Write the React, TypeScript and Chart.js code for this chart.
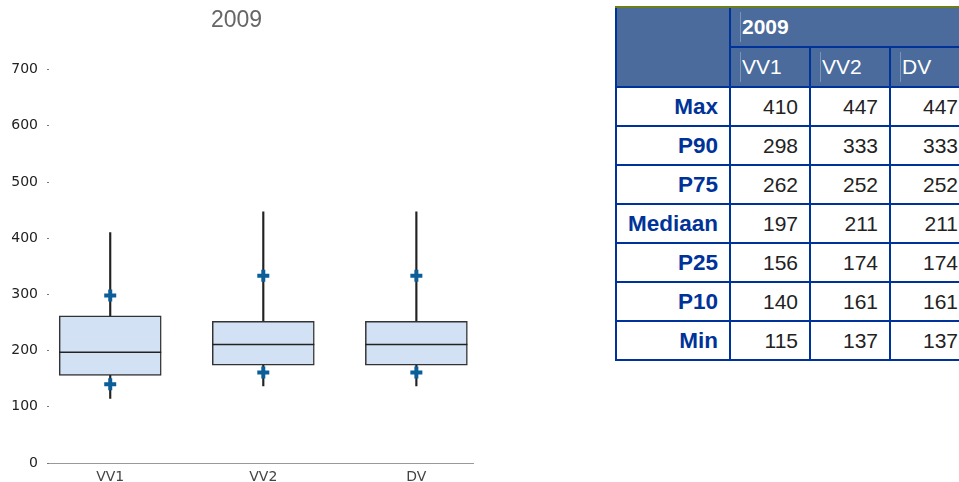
import React, { useEffect, useRef } from 'react';
import { Chart, registerables } from 'chart.js';

Chart.register(...registerables);

const chartTitle = '2009';
const categories = ['VV1', 'VV2', 'DV'];
const maxValues = [410, 447, 447];
const p90Values = [298, 333, 333];
const p75Values = [262, 252, 252];
const medianValues = [197, 211, 211];
const p25Values = [156, 174, 174];
const p10Values = [140, 161, 161];
const minValues = [115, 137, 137];
const yMin = 0;
const yMax = 700;
const yStep = 100;
const rowLabels = ['Max', 'P90', 'P75', 'Mediaan', 'P25', 'P10', 'Min'];
const rowSeries = [maxValues, p90Values, p75Values, medianValues, p25Values, p10Values, minValues];

const BLUE_LINE = '#003399';
const HEADER_BG = '#4A6B9B';
const TABLE_FONT = '"Liberation Sans", Arial, sans-serif';

function BoxChart() {
  const ref = useRef<HTMLCanvasElement | null>(null);
  useEffect(() => {
    if (!ref.current) return;
    const xs = categories.map((_, i) => i + 1);
    const chart = new Chart(ref.current, {
      type: 'bar',
      data: {
        datasets: [
          {
            type: 'scatter',
            label: 'P10/P90',
            data: [
              ...xs.map((x, i) => ({ x, y: p90Values[i] })),
              ...xs.map((x, i) => ({ x, y: p10Values[i] })),
            ],
            pointStyle: 'cross',
            pointRadius: 6,
            pointBorderWidth: 4,
            borderColor: '#0B5E97',
            backgroundColor: '#0B5E97',
            order: 0,
          } as any,
          {
            type: 'scatter',
            label: 'Mediaan',
            data: xs.map((x, i) => ({ x, y: medianValues[i] })),
            pointStyle: 'line',
            pointRadius: 51,
            pointBorderWidth: 1.5,
            borderColor: '#222222',
            order: 1,
          } as any,
          {
            type: 'bar',
            label: 'P25-P75',
            data: xs.map((x, i) => ({ x, y: [p25Values[i], p75Values[i]] })),
            backgroundColor: '#D2E2F4',
            borderColor: '#333333',
            borderWidth: 1.5,
            borderSkipped: false,
            barThickness: 102,
            grouped: false,
            order: 2,
          } as any,
          {
            type: 'bar',
            label: 'Min-Max',
            data: xs.map((x, i) => ({ x, y: [minValues[i], maxValues[i]] })),
            backgroundColor: '#222222',
            borderWidth: 0,
            barThickness: 1.5,
            grouped: false,
            order: 3,
          } as any,
        ],
      },
      options: {
        animation: false,
        responsive: false,
        events: [],
        layout: { autoPadding: false, padding: { left: 0, right: 7, top: 0, bottom: 0 } },
        plugins: {
          legend: { display: false },
          tooltip: { enabled: false },
          title: {
            display: true,
            text: chartTitle,
            color: '#666666',
            font: { family: '"Liberation Sans", Arial, sans-serif', size: 23, weight: 'normal' },
            padding: { top: 7, bottom: 35 },
          },
        },
        scales: {
          x: {
            type: 'linear',
            min: 0.6,
            max: 3.37,
            offset: false,
            grid: { display: false, drawTicks: false, offset: false },
            border: { display: true, color: '#999999', width: 1 },
            afterBuildTicks: (s: any) => {
              s.ticks = xs.map((v) => ({ value: v }));
            },
            afterFit: (s: any) => {
              s.height = 19;
            },
            ticks: {
              autoSkip: false,
              maxRotation: 0,
              padding: 6,
              color: '#444444',
              font: { family: '"DejaVu Sans", sans-serif', size: 14 },
              callback: (v: any) => categories[Math.round(Number(v)) - 1] ?? '',
            },
          },
          y: {
            type: 'linear',
            min: yMin,
            max: yMax,
            grid: { drawOnChartArea: false, drawTicks: true, tickLength: 2, color: '#777777' },
            border: { display: false },
            afterFit: (s: any) => {
              s.width = 49;
            },
            ticks: {
              stepSize: yStep,
              padding: 9,
              color: '#222222',
              font: { family: '"DejaVu Sans", sans-serif', size: 14 },
            },
          },
        },
      } as any,
    });
    return () => chart.destroy();
  }, []);
  return (
    <canvas
      ref={ref}
      width={480}
      height={482}
      style={{ position: 'absolute', left: 0, top: 0, width: 480, height: 482 }}
    />
  );
}

function HeaderText({ text, bold }: { text: string; bold?: boolean }) {
  return (
    <div
      style={{
        height: '100%',
        display: 'flex',
        alignItems: 'center',
        paddingLeft: 9,
        boxSizing: 'border-box',
      }}
    >
      <span
        style={{
          borderLeft: '1px solid rgba(255,255,255,0.28)',
          paddingLeft: 1,
          lineHeight: '30px',
          color: '#FFFFFF',
          fontWeight: bold ? 'bold' : 'normal',
          fontSize: 21,
          fontFamily: TABLE_FONT,
        }}
      >
        {text}
      </span>
    </div>
  );
}

function StatsTable() {
  const cellBase: React.CSSProperties = {
    background: '#FFFFFF',
    display: 'flex',
    alignItems: 'center',
    justifyContent: 'flex-end',
    paddingRight: 11,
    fontSize: 21,
    fontFamily: TABLE_FONT,
    boxSizing: 'border-box',
  };
  return (
    <>
      <div style={{ position: 'absolute', left: 615, top: 6, width: 360, height: 2, background: '#6E7E16' }} />
      <div
        style={{
          position: 'absolute',
          left: 615,
          top: 8,
          display: 'grid',
          gridTemplateColumns: '112px 78px 78px 78px',
          gridTemplateRows: '38px 38px repeat(7, 37px)',
          columnGap: 2,
          rowGap: 2,
          paddingLeft: 2,
          paddingBottom: 2,
          background: BLUE_LINE,
        }}
      >
        <div style={{ gridColumn: '1 / 2', gridRow: '1 / 3', background: HEADER_BG }} />
        <div style={{ gridColumn: '2 / 5', gridRow: '1 / 2', background: HEADER_BG }}>
          <HeaderText text={chartTitle} bold />
        </div>
        {categories.map((c, i) => (
          <div key={c} style={{ gridColumn: `${i + 2} / ${i + 3}`, gridRow: '2 / 3', background: HEADER_BG }}>
            <HeaderText text={c} />
          </div>
        ))}
        {rowLabels.map((label, r) => (
          <React.Fragment key={label}>
            <div
              style={{
                ...cellBase,
                gridColumn: '1 / 2',
                gridRow: `${r + 3} / ${r + 4}`,
                color: BLUE_LINE,
                fontWeight: 'bold',
                fontSize: 22.5,
              }}
            >
              {label}
            </div>
            {rowSeries[r].map((v, i) => (
              <div
                key={i}
                style={{
                  ...cellBase,
                  gridColumn: `${i + 2} / ${i + 3}`,
                  gridRow: `${r + 3} / ${r + 4}`,
                  color: '#222222',
                }}
              >
                {v}
              </div>
            ))}
          </React.Fragment>
        ))}
      </div>
    </>
  );
}

export default function App() {
  return (
    <div
      style={{
        position: 'fixed',
        left: 0,
        top: 0,
        width: 959,
        height: 482,
        overflow: 'hidden',
        background: '#FFFFFF',
      }}
    >
      <BoxChart />
      <StatsTable />
    </div>
  );
}
